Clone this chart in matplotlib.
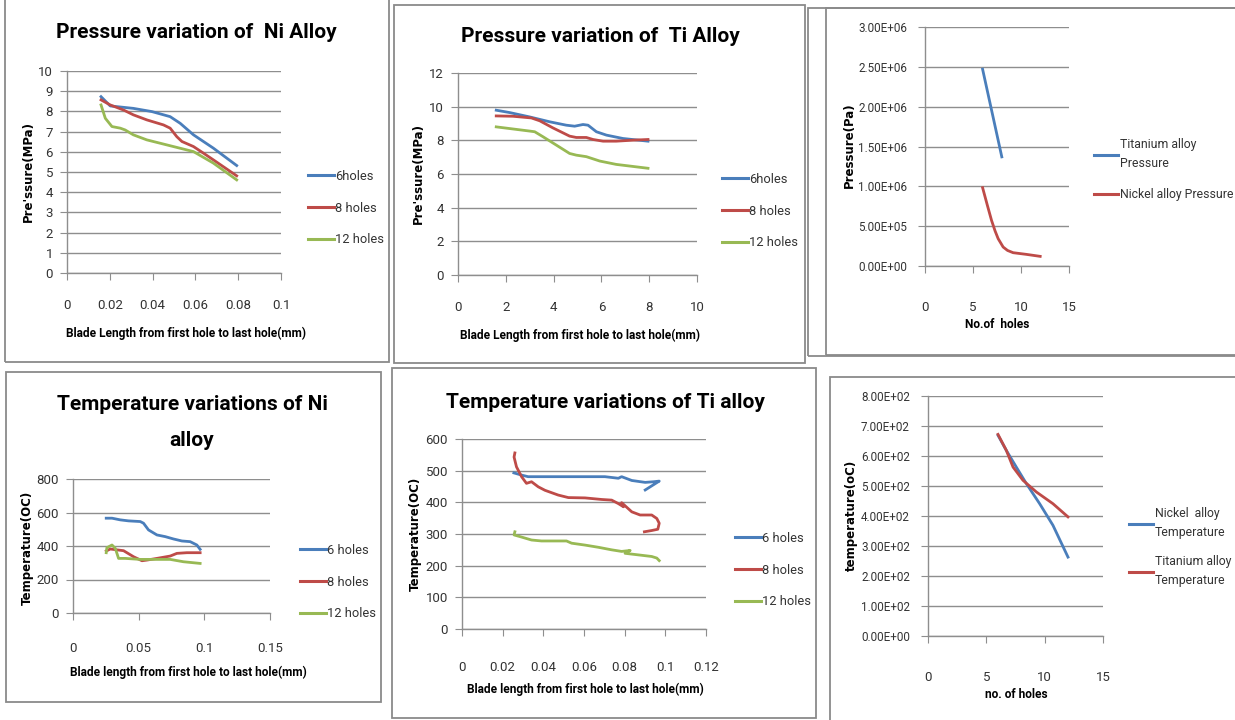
import matplotlib
matplotlib.use("Agg")
import matplotlib.pyplot as plt
from matplotlib.patches import Rectangle

# ---------------- DATA ----------------
# Pressure variation of Ni alloy (MPa vs blade length)
ni_p_6_x = [0.0159, 0.0202, 0.031, 0.0397, 0.0482, 0.0529, 0.0591, 0.0684, 0.0793]
ni_p_6_y = [8.73, 8.27, 8.15, 7.99, 7.74, 7.41, 6.84, 6.18, 5.32]
ni_p_8_x = [0.0159, 0.0202, 0.0264, 0.031, 0.0373, 0.0451, 0.0482, 0.0513, 0.0537, 0.0591, 0.0638, 0.0684, 0.0793]
ni_p_8_y = [8.57, 8.32, 8.07, 7.83, 7.58, 7.33, 7.17, 6.75, 6.51, 6.26, 5.93, 5.60, 4.81]
ni_p_12_x = [0.0159, 0.0179, 0.021, 0.0249, 0.0272, 0.031, 0.0373, 0.0467, 0.0591, 0.0684, 0.0793]
ni_p_12_y = [8.32, 7.66, 7.25, 7.17, 7.08, 6.84, 6.59, 6.34, 6.01, 5.44, 4.61]

# Pressure variation of Ti alloy
ti_p_6_x = [1.6, 2.16, 3.0, 3.84, 4.53, 4.88, 5.23, 5.44, 5.79, 6.21, 6.9, 7.95]
ti_p_6_y = [9.79, 9.65, 9.39, 9.10, 8.90, 8.84, 8.94, 8.90, 8.51, 8.31, 8.11, 7.95]
ti_p_8_x = [1.6, 2.3, 3.07, 3.42, 3.97, 4.67, 4.95, 5.37, 5.65, 6.07, 6.62, 7.32, 7.95]
ti_p_8_y = [9.45, 9.43, 9.33, 9.16, 8.74, 8.25, 8.17, 8.17, 8.05, 7.95, 7.95, 8.01, 8.05]
ti_p_12_x = [1.6, 2.16, 3.0, 3.21, 3.56, 4.11, 4.67, 4.95, 5.37, 5.93, 6.62, 7.95]
ti_p_12_y = [8.80, 8.70, 8.55, 8.51, 8.21, 7.72, 7.22, 7.12, 7.03, 6.77, 6.57, 6.34]

# Pressure (Pa) vs number of holes
holes_ti_p = [6, 8]
press_ti = [2.47e6, 1.37e6]
holes_ni_p = [6, 6.5, 6.93, 7.3, 7.62, 8.14, 8.6, 9.18, 10.56, 12]
press_ni = [0.983e6, 0.76e6, 0.573e6, 0.44e6, 0.343e6, 0.238e6, 0.195e6, 0.167e6, 0.146e6, 0.121e6]

# Temperature variations of Ni alloy
ni_t_6_x = [0.0253, 0.0297, 0.036, 0.0423, 0.0512, 0.0537, 0.0575, 0.0639, 0.0702, 0.0765, 0.0829, 0.0892, 0.0943, 0.0968]
ni_t_6_y = [566, 566, 556, 550, 546, 536, 496, 466, 456, 442, 430, 426, 406, 380]
ni_t_8_x = [0.0253, 0.0284, 0.0385, 0.0461, 0.0525, 0.0563, 0.0639, 0.0740, 0.0791, 0.0867, 0.0968]
ni_t_8_y = [370, 382, 372, 336, 312, 316, 326, 340, 356, 360, 360]
ni_t_12_x = [0.0253, 0.0258, 0.0297, 0.0322, 0.0347, 0.0398, 0.0512, 0.0639, 0.0740, 0.0841, 0.0968]
ni_t_12_y = [360, 390, 406, 386, 326, 326, 320, 320, 320, 306, 296]

# Temperature variations of Ti alloy
ti_t_6_x = [0.0255, 0.0293, 0.0325, 0.044, 0.0605, 0.0703, 0.0769, 0.0785, 0.0835, 0.0901, 0.0942, 0.097, 0.0901]
ti_t_6_y = [493, 486, 481, 481, 481, 481, 476, 481, 469, 463, 465, 467, 439]
ti_t_8_x = [0.026, 0.0256, 0.0268, 0.0293, 0.0317, 0.0342, 0.0375, 0.0408, 0.0473, 0.0523, 0.0605, 0.0687,
            0.0736, 0.0769, 0.0794, 0.0785, 0.0835, 0.0876, 0.0933, 0.0958, 0.097, 0.0963, 0.0933, 0.0897]
ti_t_8_y = [556, 543, 512, 481, 460, 465, 449, 438, 423, 415, 414, 409,
            407, 396, 386, 399, 370, 360, 360, 349, 334, 315, 311, 307]
ti_t_12_x = [0.026, 0.0256, 0.0284, 0.0342, 0.0391, 0.0514, 0.0539, 0.0605, 0.0671, 0.0736, 0.0785,
             0.0827, 0.0802, 0.0868, 0.0933, 0.0958, 0.097]
ti_t_12_y = [307, 297, 292, 281, 278, 278, 271, 265, 258, 250, 245, 248, 239, 234, 229, 224, 216]

# Temperature vs number of holes
holes_ni_t = [6, 6.71, 7.57, 8.43, 9.57, 10.71, 12]
temp_ni = [669, 619, 563, 508, 441, 369, 263]
holes_ti_t = [6, 6.71, 7.29, 8.14, 9.29, 10.71, 12]
temp_ti = [672, 619, 563, 519, 480, 441, 397]

# tick labels
p3_yticklabels = ["0.00E+00", "5.00E+05", "1.00E+06", "1.50E+06", "2.00E+06", "2.50E+06", "3.00E+06"]
p6_yticklabels = ["0.00E+00", "1.00E+02", "2.00E+02", "3.00E+02", "4.00E+02",
                  "5.00E+02", "6.00E+02", "7.00E+02", "8.00E+02"]

# ---------------- STYLE ----------------
BLUE = "#4a7ebb"
RED = "#be4b48"
GREEN = "#98b954"
GRID = "#8e8e8e"
NARROW = "Roboto"
W, H = 1235, 720
LW = 2.0

fig = plt.figure(figsize=(W / 100, H / 100), dpi=100)


def px_axes(l, t, r, b):
    return fig.add_axes([l / W, 1 - b / H, (r - l) / W, (b - t) / H])


def fig_text(x, y, s, **kw):
    fig.text(x / W, 1 - y / H, s, ha="center", va="center", **kw)


def box(l, t, r, b):
    fig.add_artist(Rectangle((l / W, 1 - b / H), (r - l) / W, (b - t) / H,
                             transform=fig.transFigure, fill=False,
                             edgecolor="#8a8a8a", lw=1.3))


def style_axes(ax, xlim, xticks, ylim, yticks, yticklabels=None, ysize=9.5):
    ax.set_xlim(xlim)
    ax.set_ylim(ylim)
    ax.set_xticks(xticks)
    ax.set_yticks(yticks)
    ax.set_xticklabels([f"{v:g}" for v in xticks])
    if yticklabels is None:
        yticklabels = [f"{v:g}" for v in yticks]
    ax.set_yticklabels(yticklabels)
    for sp in ["top", "right"]:
        ax.spines[sp].set_visible(False)
    for sp in ["left", "bottom"]:
        ax.spines[sp].set_color(GRID)
        ax.spines[sp].set_linewidth(1.0)
    ax.yaxis.grid(True, color=GRID, lw=1.0)
    ax.set_axisbelow(True)
    ax.tick_params(axis="x", length=5, color=GRID, pad=14, labelsize=9.5)
    ax.tick_params(axis="y", length=5, color=GRID, pad=5, labelsize=ysize)
    for lab in ax.get_xticklabels() + ax.get_yticklabels():
        lab.set_family(NARROW)
        lab.set_color("#333333")
    ax.patch.set_alpha(0)


def add_legend(ax, x, y, spacing=1.45, size=9.3, linespacing=1.2):
    leg = ax.legend(loc="upper left", bbox_to_anchor=(x / W, 1 - y / H),
                    bbox_transform=fig.transFigure, frameon=False,
                    prop={"family": NARROW, "size": size}, handlelength=2.0,
                    handletextpad=0.1, labelspacing=spacing, borderpad=0,
                    borderaxespad=0)
    for line in leg.get_lines():
        line.set_linewidth(2.2)
    for t in leg.get_texts():
        t.set_color("#333333")
        t.set_linespacing(linespacing)


title_kw = dict(family=NARROW, fontsize=15, fontweight="bold")
xlab_kw = dict(family=NARROW, fontsize=8.6, fontweight="bold")
ylab_kw = dict(family="DejaVu Sans", fontsize=8.5, fontweight="bold", rotation=90)

# ---------------- PANEL BORDERS ----------------
box(5, -5, 389, 362)
box(394, 5, 805, 363)
box(808, 8, 1240, 356)
box(826, 8, 1240, 355)
box(6, 372, 381, 702)
box(392, 368, 816, 718)
box(830, 377, 1240, 725)

# ---------------- (1) Pressure Ni ----------------
ax1 = px_axes(67, 71, 281, 273)
ax1.plot(ni_p_6_x, ni_p_6_y, color=BLUE, lw=LW, label="6holes")
ax1.plot(ni_p_8_x, ni_p_8_y, color=RED, lw=LW, label="8 holes")
ax1.plot(ni_p_12_x, ni_p_12_y, color=GREEN, lw=LW, label="12 holes")
style_axes(ax1, (0, 0.1), [0, 0.02, 0.04, 0.06, 0.08, 0.1], (0, 10), list(range(0, 11)))
add_legend(ax1, 308, 170)
fig_text(196, 33, "Pressure variation of  Ni Alloy", **title_kw)
fig_text(186, 333, "Blade Length from first hole to last hole(mm)", **xlab_kw)
fig_text(28, 172, "Pre'ssure(MPa)", **ylab_kw)

# ---------------- (2) Pressure Ti ----------------
ax2 = px_axes(458, 73, 697, 275)
ax2.plot(ti_p_6_x, ti_p_6_y, color=BLUE, lw=LW, label="6holes")
ax2.plot(ti_p_8_x, ti_p_8_y, color=RED, lw=LW, label="8 holes")
ax2.plot(ti_p_12_x, ti_p_12_y, color=GREEN, lw=LW, label="12 holes")
style_axes(ax2, (0, 10), [0, 2, 4, 6, 8, 10], (0, 12), [0, 2, 4, 6, 8, 10, 12])
add_legend(ax2, 722, 173)
fig_text(600, 37, "Pressure variation of  Ti Alloy", **title_kw)
fig_text(580, 335, "Blade Length from first hole to last hole(mm)", **xlab_kw)
fig_text(418, 174, "Pre'ssure(MPa)", **ylab_kw)

# ---------------- (3) Pressure vs holes ----------------
ax3 = px_axes(925, 27, 1069, 266)
ax3.plot(holes_ti_p, press_ti, color=BLUE, lw=LW, label="Titanium alloy\nPressure")
ax3.plot(holes_ni_p, press_ni, color=RED, lw=LW, label="Nickel alloy Pressure")
style_axes(ax3, (0, 15), [0, 5, 10, 15], (0, 3e6),
           [0, 5e5, 1e6, 1.5e6, 2e6, 2.5e6, 3e6], p3_yticklabels, ysize=8.4)
ax3.tick_params(axis="x", pad=20)
ax3.tick_params(axis="y", pad=8)
add_legend(ax3, 1094, 138, spacing=1.5, size=8.8, linespacing=1.6)
fig_text(997, 325, "No.of  holes", **xlab_kw)
fig_text(849, 145, "Pressure(Pa)", **ylab_kw)

# ---------------- (4) Temperature Ni ----------------
ax4 = px_axes(73, 479, 270, 613)
ax4.plot(ni_t_6_x, ni_t_6_y, color=BLUE, lw=LW, label="6 holes")
ax4.plot(ni_t_8_x, ni_t_8_y, color=RED, lw=LW, label="8 holes")
ax4.plot(ni_t_12_x, ni_t_12_y, color=GREEN, lw=LW, label="12 holes")
style_axes(ax4, (0, 0.15), [0, 0.05, 0.1, 0.15], (0, 800), [0, 200, 400, 600, 800])
ax4.tick_params(axis="x", pad=16)
add_legend(ax4, 300, 544)
fig_text(192, 405, "Temperature variations of Ni", **title_kw)
fig_text(192, 440, "alloy", **title_kw)
fig_text(188, 672, "Blade length from first hole to last hole(mm)", **xlab_kw)
fig_text(27, 548, "Temperature(OC)", **ylab_kw)

# ---------------- (5) Temperature Ti ----------------
ax5 = px_axes(462, 439, 706, 629)
ax5.plot(ti_t_6_x, ti_t_6_y, color=BLUE, lw=LW, label="6 holes")
ax5.plot(ti_t_8_x, ti_t_8_y, color=RED, lw=LW, label="8 holes")
ax5.plot(ti_t_12_x, ti_t_12_y, color=GREEN, lw=LW, label="12 holes")
style_axes(ax5, (0, 0.12), [0, 0.02, 0.04, 0.06, 0.08, 0.1, 0.12], (0, 600),
           [0, 100, 200, 300, 400, 500, 600])
ax5.tick_params(axis="x", pad=18)
add_legend(ax5, 735, 532)
fig_text(605, 402, "Temperature variations of Ti alloy", **title_kw)
fig_text(585, 689, "Blade length from first hole to last hole(mm)", **xlab_kw)
fig_text(415, 534, "Temperature(OC)", **ylab_kw)

# ---------------- (6) Temperature vs holes ----------------
ax6 = px_axes(928, 396, 1103, 636)
ax6.plot(holes_ni_t, temp_ni, color=BLUE, lw=LW, label="Nickel  alloy\nTemperature")
ax6.plot(holes_ti_t, temp_ti, color=RED, lw=LW, label="Titanium alloy\nTemperature")
style_axes(ax6, (0, 15), [0, 5, 10, 15], (0, 800), list(range(0, 801, 100)),
           p6_yticklabels, ysize=8.4)
ax6.tick_params(axis="x", pad=20)
ax6.tick_params(axis="y", pad=8)
add_legend(ax6, 1129, 507, spacing=1.3, size=8.8, linespacing=1.6)
fig_text(1016, 695, "no. of holes", **xlab_kw)
fig_text(851, 515, "temperature(oC)", **ylab_kw)

fig.savefig("out.png", dpi=100, facecolor="white")
